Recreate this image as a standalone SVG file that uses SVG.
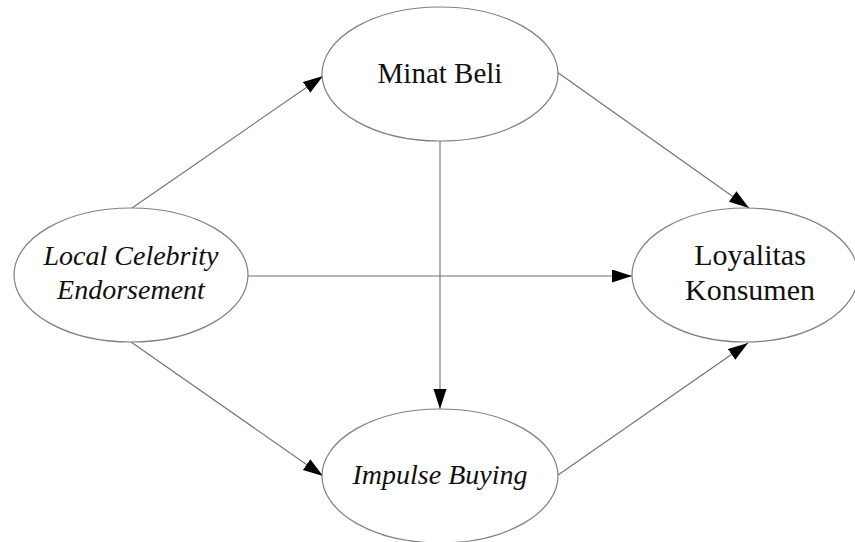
<svg xmlns="http://www.w3.org/2000/svg" width="855" height="542" viewBox="0 0 855 542">
<style>
.node ellipse{fill:#fff;stroke:#808080;stroke-width:1.2}
.lbl{font-family:"Liberation Serif","Times New Roman",serif;font-size:29px;fill:#111;text-anchor:middle}
.it{font-style:italic;font-size:28px}
.edge{stroke:#707070;stroke-width:1.1;fill:none;marker-end:url(#ah)}
</style>
<defs>
<marker id="ah" markerUnits="userSpaceOnUse" markerWidth="22" markerHeight="14" refX="20" refY="6.5" orient="auto">
<path d="M0,0 L20,6.5 L0,13 Z" fill="#000"/>
</marker>
</defs>
<rect width="855" height="542" fill="#fff"/>
<g id="connectors">
<line class="edge" x1="132" y1="208" x2="323" y2="76"/>
<line class="edge" x1="248" y1="276" x2="632" y2="276"/>
<line class="edge" x1="131" y1="342" x2="323" y2="476"/>
<line class="edge" x1="440" y1="141" x2="440" y2="409"/>
<line class="edge" x1="557" y1="72" x2="749" y2="208"/>
<line class="edge" x1="558" y1="475" x2="748" y2="343"/>
</g>
<g id="minat-beli" class="node">
<ellipse cx="440" cy="74" rx="118" ry="67"/>
<text class="lbl" x="440" y="83">Minat Beli</text>
</g>
<g id="local-celebrity-endorsement" class="node">
<ellipse cx="131" cy="275" rx="117" ry="67"/>
<text class="lbl it" x="131" y="265">Local Celebrity</text>
<text class="lbl it" x="131" y="299">Endorsement</text>
</g>
<g id="loyalitas-konsumen" class="node">
<ellipse cx="745" cy="275" rx="113" ry="67"/>
<text class="lbl" x="750" y="265" style="font-size:30px">Loyalitas</text>
<text class="lbl" x="750" y="300" style="font-size:30px">Konsumen</text>
</g>
<g id="impulse-buying" class="node">
<ellipse cx="440" cy="476" rx="118" ry="67"/>
<text class="lbl it" x="440" y="484">Impulse Buying</text>
</g>
</svg>
